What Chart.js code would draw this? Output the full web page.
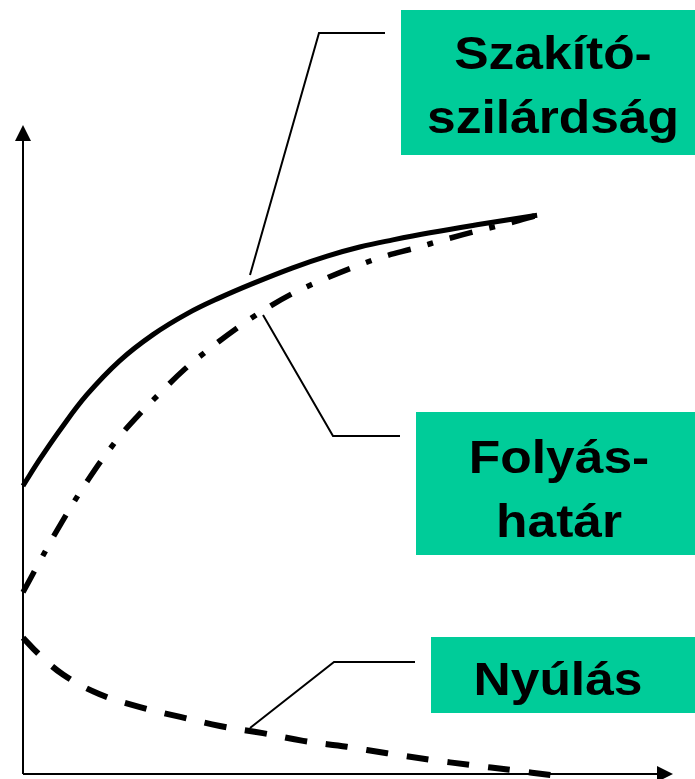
<!DOCTYPE html>
<html>
<head>
<meta charset="utf-8">
<script src="https://cdn.jsdelivr.net/npm/chart.js@4/dist/chart.umd.min.js"></script>
<style>
    body { margin: 0; background: #fff; }
    #wrap { width: 695px; height: 779px; }
</style>
</head>
<body>
<div id="wrap"><canvas id="chart" width="695" height="779"></canvas></div>
<script>
// Görbék adatai (x: alakváltozás, y: érték, 0-100 egység)
let szakitoX = [0, 2.6, 5.7, 9.8, 14.9, 20.0, 25.2, 30.3, 35.4, 41.5, 46.8, 51.8, 56.9, 62.6, 70.3, 79.1];
let szakitoY = [44.4, 48.5, 53.0, 58.4, 63.7, 67.7, 70.9, 73.4, 75.6, 78.0, 79.8, 81.2, 82.3, 83.4, 84.7, 86.1];

let folyasX = [0, 2.6, 5.8, 10.0, 14.3, 17.5, 21.1, 24.9, 28.8, 32.9, 37.1, 41.4, 46.0, 50.6, 55.4, 60.2, 65.1, 70.0, 74.9, 79.1];
let folyasY = [28.0, 32.8, 38.5, 45.3, 51.3, 55.0, 58.7, 62.4, 65.6, 68.7, 71.5, 74.0, 76.1, 78.0, 79.7, 81.0, 82.4, 83.7, 84.9, 86.1];

let nyulasX = [0, 2.3, 6.2, 11.8, 18.0, 24.2, 30.3, 36.9, 43.1, 49.8, 56.0, 62.6, 68.8, 75.2, 81.4];
let nyulasY = [21.0, 18.6, 15.3, 12.3, 10.3, 8.8, 7.4, 6.3, 5.1, 4.2, 3.2, 2.2, 1.4, 0.6, -0.2];

// Feliratok a zöld dobozokban
let szakitoLabel = ["Szakító-", "szilárdság"];
let folyasLabel = ["Folyás-", "határ"];
let nyulasLabel = ["Nyúlás"];

// x/y tömbökből pontlista
function toPoints(xs, ys) {
    return xs.map((x, i) => ({ x: x, y: ys[i] }));
}

const green = "rgb(0,204,153)";
const font = 'bold 46px "Liberation Sans", Arial, sans-serif';

// Tengelyek nyíllal (a diagram területének bal és alsó széle)
const axesPlugin = {
    id: "axes",
    beforeDatasetsDraw(chart) {
        const { ctx, chartArea: a } = chart;
        ctx.save();
        ctx.strokeStyle = "#000";
        ctx.fillStyle = "#000";
        ctx.lineWidth = 2;
        ctx.beginPath();
        ctx.moveTo(a.left, a.bottom);
        ctx.lineTo(a.left, a.top + 14);
        ctx.moveTo(a.left, a.bottom);
        ctx.lineTo(a.right - 14, a.bottom);
        ctx.stroke();
        // nyílhegyek
        ctx.beginPath();
        ctx.moveTo(a.left, a.top);
        ctx.lineTo(a.left - 8, a.top + 16);
        ctx.lineTo(a.left + 8, a.top + 16);
        ctx.closePath();
        ctx.fill();
        ctx.beginPath();
        ctx.moveTo(a.right, a.bottom);
        ctx.lineTo(a.right - 16, a.bottom - 8);
        ctx.lineTo(a.right - 16, a.bottom + 8);
        ctx.closePath();
        ctx.fill();
        ctx.restore();
    }
};

// Zöld dobozok, szövegek és mutatóvonalak
const labelPlugin = {
    id: "labels",
    afterDraw(chart) {
        const ctx = chart.ctx;
        const boxes = [
            { x: 401, y: 10, h: 145, cx: 553, base: [69, 133], text: szakitoLabel, line: [[250, 275], [319, 33], [385, 33]] },
            { x: 416, y: 412, h: 143, cx: 559, base: [473, 537], text: folyasLabel, line: [[263, 315], [333, 436], [400, 436]] },
            { x: 431, y: 637, h: 76, cx: 558, base: [695], text: nyulasLabel, line: [[250, 728], [334, 662], [415, 662]] }
        ];
        ctx.save();
        boxes.forEach(b => {
            ctx.fillStyle = green;
            ctx.fillRect(b.x, b.y, chart.width - b.x + 10, b.h);

            ctx.strokeStyle = "#000";
            ctx.lineWidth = 2;
            ctx.beginPath();
            b.line.forEach((p, i) => i == 0 ? ctx.moveTo(p[0], p[1]) : ctx.lineTo(p[0], p[1]));
            ctx.stroke();

            ctx.fillStyle = "#000";
            ctx.font = font;
            ctx.textAlign = "center";
            ctx.textBaseline = "alphabetic";
            b.text.forEach((t, i) => {
                ctx.save();
                ctx.translate(b.cx, b.base[i]);
                ctx.scale(1.12, 1); // a forrás szövege kissé szélesebb
                ctx.fillText(t, 0, 0);
                ctx.restore();
            });
        });
        ctx.restore();
    }
};

new Chart(document.getElementById("chart"), {
    type: "scatter",
    data: {
        datasets: [
            {
                label: szakitoLabel.join(""),
                data: toPoints(szakitoX, szakitoY),
                showLine: true,
                borderColor: "#000",
                borderWidth: 5,
                pointRadius: 0,
                tension: 0.4,
                clip: false
            },
            {
                label: folyasLabel.join(""),
                data: toPoints(folyasX, folyasY),
                showLine: true,
                borderColor: "#000",
                borderWidth: 5.5,
                borderDash: [24, 17, 6, 17],
                borderCapStyle: "butt",
                pointRadius: 0,
                tension: 0.4,
                clip: false
            },
            {
                label: nyulasLabel.join(""),
                data: toPoints(nyulasX, nyulasY),
                showLine: true,
                borderColor: "#000",
                borderWidth: 6,
                borderDash: [22, 19],
                borderCapStyle: "butt",
                pointRadius: 0,
                tension: 0.4,
                clip: false
            }
        ]
    },
    options: {
        responsive: false,
        devicePixelRatio: 1,
        animation: false,
        layout: { padding: { left: 23, right: 22, top: 125, bottom: 5 } },
        scales: {
            x: { type: "linear", min: 0, max: 100, display: false },
            y: { type: "linear", min: 0, max: 100, display: false }
        },
        plugins: {
            legend: { display: false },
            tooltip: { enabled: false }
        }
    },
    plugins: [axesPlugin, labelPlugin]
});
</script>
</body>
</html>
